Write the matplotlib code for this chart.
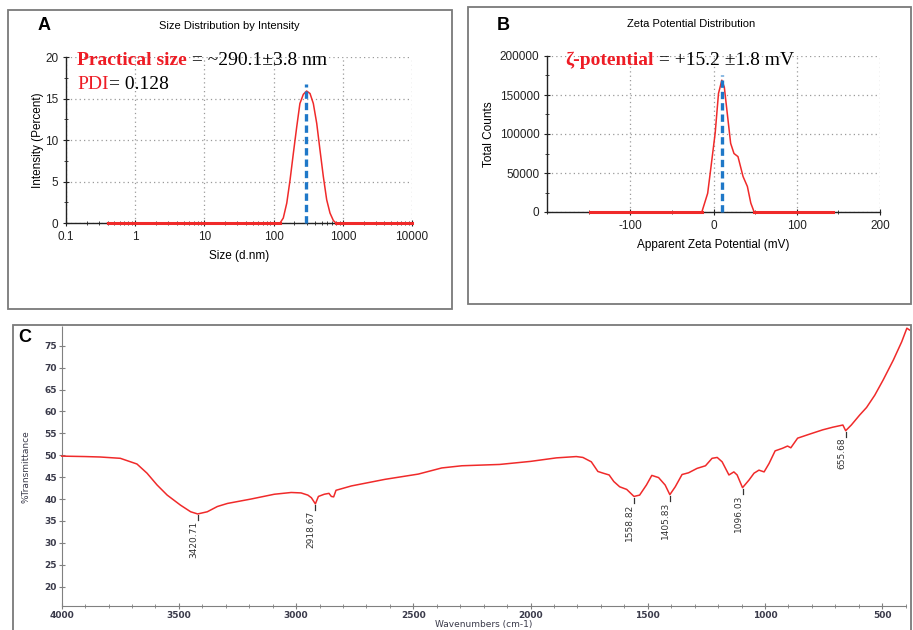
import numpy as np
import matplotlib
matplotlib.use("Agg")
import matplotlib.pyplot as plt
from matplotlib.patches import Rectangle
from matplotlib.ticker import MultipleLocator, NullFormatter

plt.rcParams["axes.unicode_minus"] = False

# --- A: DLS size distribution by intensity
SIZE_NM = [0.4, 100, 124, 138, 155, 173, 193, 216, 240, 269, 300, 336, 375,
           420, 468, 523, 585, 653, 730, 795, 1000, 10000]
INTENSITY = [0, 0, 0, 0.6, 2.4, 5.2, 8.4, 11.6, 14.4, 15.5, 15.9, 15.6, 14.4,
             12.0, 8.8, 5.6, 2.8, 1.2, 0.3, 0, 0, 0]
SIZE_PEAK = 294
SIZE_PEAK_TOP = 16.8
SIZE_TICKS = [0.1, 1, 10, 100, 1000, 10000]
SIZE_TICKLABELS = ["0.1", "1", "10", "100", "1000", "10000"]

# --- B: zeta potential distribution
ZETA_MV = [-148, -20, -14, -7, -3, 2, 6, 10, 13, 17, 20.6, 24.6, 29.4, 35.5,
           40.7, 44.8, 48.8, 60, 143]
COUNTS = [0, 0, 0, 24000, 58000, 101000, 152000, 169000, 160000, 122000,
          88000, 75000, 71000, 45500, 32700, 11500, 0, 0, 0]
ZETA_PEAK = 10.5
ZETA_PEAK_TOP = 175000

# --- C: FTIR spectrum
WAVENUMBER = [4000, 3900, 3836, 3750, 3679, 3636, 3593, 3550, 3493, 3450, 3420,
              3379, 3336, 3293, 3193, 3093, 3021, 2979, 2950, 2935, 2918, 2905,
              2880, 2860, 2850, 2840, 2830, 2764, 2621, 2479, 2379, 2293, 2132,
              2000, 1890, 1805, 1777, 1741, 1713, 1690, 1665, 1645, 1620, 1590,
              1559, 1535, 1506, 1483, 1454, 1426, 1406, 1383, 1354, 1326, 1290,
              1254, 1226, 1204, 1183, 1154, 1133, 1119, 1096, 1069, 1047, 1026,
              1004, 983, 957, 925, 904, 890, 861, 811, 754, 711, 668, 656, 632,
              596, 567, 532, 496, 453, 417, 395, 384]
TRANSMITTANCE = [49.8, 49.7, 49.6, 49.3, 48.0, 45.9, 43.2, 40.9, 38.6, 37.1, 36.6,
                 37.1, 38.3, 39.0, 40.0, 41.1, 41.5, 41.4, 40.9, 40.3, 38.9, 40.6,
                 41.1, 41.3, 40.6, 40.5, 42.0, 43.0, 44.5, 45.7, 47.1, 47.6, 47.9,
                 48.6, 49.4, 49.7, 49.5, 48.5, 46.3, 45.9, 45.5, 44.0, 42.8, 42.2,
                 40.6, 40.9, 43.2, 45.4, 44.9, 43.2, 41.0, 42.8, 45.6, 46.0, 47.0,
                 47.6, 49.3, 49.5, 48.5, 45.5, 46.2, 45.5, 42.6, 44.3, 45.9, 46.6,
                 46.2, 48.1, 51.0, 51.6, 52.1, 51.7, 53.9, 54.8, 55.8, 56.4, 56.9,
                 55.6, 56.9, 59.2, 60.9, 63.7, 67.2, 71.7, 75.9, 79.0, 78.6]
PEAKS = [3420.71, 2918.67, 1558.82, 1405.83, 1096.03, 655.68]

RED = "#f02a2a"
TXT_RED = "#ee1c25"
BLUE = "#1f78c8"
GRID = "#9a9a9a"
BOX = "#7a7a7a"
SANS = ["Liberation Sans Narrow", "Liberation Sans", "DejaVu Sans"]
SERIF = ["Liberation Serif", "DejaVu Serif"]

W, H = 913, 630
fig = plt.figure(figsize=(W / 100, H / 100), dpi=100)


def frac(x0, y0, x1, y1):
    # pixel box (top-left origin) -> figure fraction rect
    return [x0 / W, 1 - y1 / H, (x1 - x0) / W, (y1 - y0) / H]


def panel_box(x0, y0, x1, y1):
    r = frac(x0, y0, x1, y1)
    fig.patches.append(Rectangle((r[0], r[1]), r[2], r[3], transform=fig.transFigure,
                                 fill=False, edgecolor=BOX, linewidth=1.3))


def two_tone(x, y, red, black, weight):
    t = fig.text(x / W, 1 - y / H, red, color=TXT_RED, fontweight=weight,
                 family=SERIF, fontsize=14, va="baseline")
    plt.annotate(black, xy=(1, 0), xycoords=t, va="bottom", ha="left",
                 color="black", family=SERIF, fontsize=14)


def dls_axes(ax):
    for s in ("top", "right"):
        ax.spines[s].set_visible(False)
    for s in ("left", "bottom"):
        ax.spines[s].set_color("#222")
        ax.spines[s].set_linewidth(1.0)
    ax.grid(True, which="major", color=GRID, linestyle=(0, (1, 2.5)), linewidth=0.9)
    ax.set_axisbelow(True)
    ax.tick_params(which="both", direction="inout", colors="#222", labelsize=8.5,
                   pad=3)
    ax.tick_params(which="major", length=5)
    ax.tick_params(which="minor", length=3.5)
    for lab in ax.get_xticklabels() + ax.get_yticklabels():
        lab.set_family(SANS)


panel_box(8, 10, 452, 309)
panel_box(468, 7, 911, 304)
panel_box(13, 325, 911, 640)

# ---------------- A
axA = fig.add_axes(frac(66, 57, 412, 223))
sz = np.array(SIZE_NM)
it = np.array(INTENSITY, dtype=float)
axA.plot(sz, np.where(it == 0, it, np.nan), color=RED, lw=2.2, zorder=3, clip_on=False)
axA.plot(sz, it, color=RED, lw=1.1, zorder=3, clip_on=False)
axA.plot([SIZE_PEAK, SIZE_PEAK], [0, SIZE_PEAK_TOP], color=BLUE, lw=2.4,
         linestyle=(0, (2.2, 1.2)), zorder=4, clip_on=False)
axA.set_xscale("log")
axA.set_xlim(0.1, 10000)
axA.set_ylim(0, 20)
axA.set_xticks(SIZE_TICKS, SIZE_TICKLABELS)
axA.xaxis.set_minor_formatter(NullFormatter())
axA.yaxis.set_major_locator(MultipleLocator(5))
axA.yaxis.set_minor_locator(MultipleLocator(2.5))
dls_axes(axA)
axA.set_xlabel("Size (d.nm)", family=SANS, fontsize=8.5, labelpad=5)
axA.set_ylabel("Intensity (Percent)", family=SANS, fontsize=8.5, labelpad=1)
fig.text(229 / W, 1 - 26 / H, "Size Distribution by Intensity", family=SANS,
         fontsize=8, ha="center", va="center")
fig.text(44 / W, 1 - 26 / H, "A", family="Liberation Sans", fontweight="bold",
         fontsize=13, ha="center", va="center")
two_tone(77, 65, "Practical size", " = ~290.1±3.8 nm", "bold")
two_tone(77, 89, "PDI", "= 0.128", "normal")

# ---------------- B
axB = fig.add_axes(frac(547, 56, 880, 212))
zm = np.array(ZETA_MV)
ct = np.array(COUNTS, dtype=float)
axB.plot(zm, np.where(ct == 0, ct, np.nan), color=RED, lw=2.2, zorder=3, clip_on=False)
axB.plot(zm, ct, color=RED, lw=1.1, zorder=3, clip_on=False)
axB.plot([ZETA_PEAK, ZETA_PEAK], [0, ZETA_PEAK_TOP], color=BLUE, lw=2.4,
         linestyle=(0, (2.2, 1.2)), zorder=4, clip_on=False)
axB.set_xlim(-200, 200)
axB.set_ylim(0, 200000)
axB.set_xticks([-100, 0, 100, 200])
axB.xaxis.set_minor_locator(MultipleLocator(50))
axB.yaxis.set_major_locator(MultipleLocator(50000))
axB.yaxis.set_minor_locator(MultipleLocator(25000))
dls_axes(axB)
axB.set_xlabel("Apparent Zeta Potential (mV)", family=SANS, fontsize=8.5, labelpad=5)
axB.set_ylabel("Total Counts", family=SANS, fontsize=8.5, labelpad=3)
fig.text(691 / W, 1 - 24 / H, "Zeta Potential Distribution", family=SANS,
         fontsize=8, ha="center", va="center")
fig.text(503 / W, 1 - 26 / H, "B", family="Liberation Sans", fontweight="bold",
         fontsize=13, ha="center", va="center")
two_tone(565, 65, "ζ-potential", " = +15.2 ±1.8 mV", "bold")

# ---------------- C
axC = fig.add_axes(frac(61.7, 326, 905.7, 606.4))
wn = np.array(WAVENUMBER)
tr = np.array(TRANSMITTANCE)
axC.plot(wn, tr, color=RED, lw=1.1, clip_on=False, zorder=3)
axC.set_xlim(4000, 400)
axC.set_ylim(15.5, 79.5)
axC.xaxis.set_major_locator(MultipleLocator(500))
axC.xaxis.set_minor_locator(MultipleLocator(100))
axC.set_yticks(np.arange(20, 80, 5))
for s in ("top", "right"):
    axC.spines[s].set_visible(False)
axC.spines["bottom"].set_color("#808080")
axC.spines["left"].set_color("#808080")
axC.spines["left"].set_linestyle((0, (1.5, 1)))
axC.tick_params(which="both", direction="inout", colors="#808080", labelsize=6.5,
                labelcolor="#3a3a4a", pad=1.5)
axC.tick_params(which="major", length=4)
axC.tick_params(which="minor", length=2.5)
for lab in axC.get_xticklabels() + axC.get_yticklabels():
    lab.set_fontweight("bold")
axC.set_xlabel("Wavenumbers (cm-1)", fontsize=6.5, color="#3a3a4a", labelpad=0)
axC.set_ylabel("%Transmittance", fontsize=6.5, color="#3a3a4a", labelpad=10)

order = np.argsort(wn)
for p in PEAKS:
    yv = np.interp(p, wn[order], tr[order])
    axC.plot([p, p], [yv - 0.3, yv - 1.4], color="#333", lw=0.9)
    axC.text(p + 18, yv - 1.6, f"{p:.2f}", rotation=90, ha="center", va="top",
             fontsize=6.5, color="#333")

fig.text(25 / W, 1 - 338 / H, "C", family="Liberation Sans", fontweight="bold",
         fontsize=13, ha="center", va="center")

fig.savefig("out.png", dpi=100, facecolor="white")
